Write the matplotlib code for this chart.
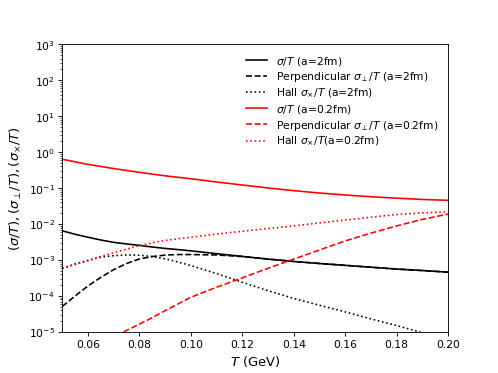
import numpy as np
import matplotlib
matplotlib.use('Agg')
import matplotlib.pyplot as plt

# temperature grid (GeV)
T = [0.050, 0.055, 0.060, 0.065, 0.070, 0.075, 0.080, 0.085, 0.090, 0.095,
     0.100, 0.110, 0.120, 0.130, 0.140, 0.150, 0.160, 0.170, 0.180, 0.190, 0.200]

# a = 2 fm
sig_2 = [6.5e-3, 5.2e-3, 4.3e-3, 3.6e-3, 3.1e-3, 2.8e-3, 2.55e-3, 2.3e-3, 2.1e-3, 1.95e-3,
         1.8e-3, 1.5e-3, 1.26e-3, 1.06e-3, 9.1e-4, 8.0e-4, 7.1e-4, 6.3e-4, 5.6e-4, 5.1e-4, 4.6e-4]
perp_2 = [5.1e-5, 1.0e-4, 1.9e-4, 3.3e-4, 5.4e-4, 8.0e-4, 1.07e-3, 1.25e-3, 1.37e-3, 1.42e-3,
          1.42e-3, 1.38e-3, 1.25e-3, 1.06e-3, 9.1e-4, 8.0e-4, 7.1e-4, 6.3e-4, 5.6e-4, 5.1e-4, 4.6e-4]
hall_2 = [5.8e-4, 7.8e-4, 9.8e-4, 1.2e-3, 1.32e-3, 1.38e-3, 1.36e-3, 1.25e-3, 1.08e-3, 8.8e-4,
          7.0e-4, 4.2e-4, 2.4e-4, 1.4e-4, 8.5e-5, 5.5e-5, 3.6e-5, 2.3e-5, 1.5e-5, 9.5e-6, 6.0e-6]

# a = 0.2 fm
sig_02 = [0.635, 0.54, 0.457, 0.40, 0.35, 0.31, 0.275, 0.245, 0.22, 0.20,
          0.182, 0.148, 0.122, 0.101, 0.085, 0.073, 0.0645, 0.0575, 0.0525, 0.0484, 0.0457]
perp_02 = [1.4e-6, 2.1e-6, 3.2e-6, 4.8e-6, 7.2e-6, 1.1e-5, 1.65e-5, 2.5e-5, 3.9e-5, 6.0e-5,
           9.2e-5, 1.75e-4, 3.2e-4, 5.9e-4, 1.06e-3, 1.9e-3, 3.4e-3, 5.6e-3, 8.9e-3, 1.35e-2, 1.9e-2]
hall_02 = [5.9e-4, 7.5e-4, 9.5e-4, 1.25e-3, 1.6e-3, 2.0e-3, 2.5e-3, 3.0e-3, 3.5e-3, 3.9e-3,
           4.3e-3, 5.3e-3, 6.3e-3, 7.5e-3, 8.9e-3, 1.08e-2, 1.3e-2, 1.55e-2, 1.85e-2, 2.05e-2, 2.2e-2]

fig, ax = plt.subplots(figsize=(6.4, 4.8), dpi=498 / 6.4)

ax.plot(T, sig_2, color='black', linestyle='-', label=r'$\sigma/T$ (a=2fm)')
ax.plot(T, perp_2, color='black', linestyle='--', label=r'Perpendicular $\sigma_{\perp}/T$ (a=2fm)')
ax.plot(T, hall_2, color='black', linestyle=':', label=r'Hall $\sigma_{\times}/T$ (a=2fm)')
ax.plot(T, sig_02, color='red', linestyle='-', label=r'$\sigma/T$ (a=0.2fm)')
ax.plot(T, perp_02, color='red', linestyle='--', label=r'Perpendicular $\sigma_{\perp}/T$ (a=0.2fm)')
ax.plot(T, hall_02, color='red', linestyle=':', label=r'Hall $\sigma_{\times}/T$(a=0.2fm)')

ax.set_yscale('log')
ax.set_xlim(0.05, 0.20)
ax.set_ylim(1e-5, 1e3)
ax.set_xlabel(r'$T$ (GeV)', fontsize=12)
ax.set_ylabel(r'$(\sigma/T), (\sigma_{\perp}/T), (\sigma_{\times}/T)$', fontsize=12)
ax.legend(loc='upper right', frameon=False, labelspacing=0.25)

plt.savefig('out.png')
